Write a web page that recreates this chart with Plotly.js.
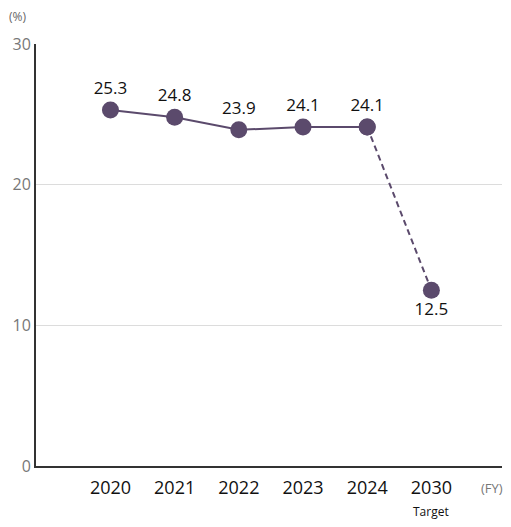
<!DOCTYPE html>
<html>
<head>
<meta charset="utf-8">
<script src="https://cdn.plot.ly/plotly-3.0.1.min.js"></script>
<style>
html, body { margin: 0; padding: 0; background: #fff; }
#chart { width: 511px; height: 527px; }
</style>
</head>
<body>
<div id="chart"></div>
<script>
var years = ['2020', '2021', '2022', '2023', '2024', '2030'];
var values = [25.3, 24.8, 23.9, 24.1, 24.1, 12.5];
var labels = ['25.3', '24.8', '23.9', '24.1', '24.1', '12.5'];
var idx = years.map(function (y, i) { return i; });

var purple = '#5b4a6c';

// actual results, solid
var actual = {
  x: idx.slice(0, 5),
  y: values.slice(0, 5),
  type: 'scatter',
  mode: 'lines+markers+text',
  text: labels.slice(0, 5),
  textposition: 'top center',
  textfont: { size: 17, color: '#111' },
  line: { color: purple, width: 2 },
  marker: { color: purple, size: 17 },
  cliponaxis: false,
  hoverinfo: 'x+y'
};

// 2024 -> target, dashed
var target = {
  x: idx.slice(4),
  y: values.slice(4),
  type: 'scatter',
  mode: 'lines+markers+text',
  text: ['', labels[5]],
  textposition: 'bottom center',
  textfont: { size: 17, color: '#111' },
  line: { color: purple, width: 2, dash: '6px,4px' },
  marker: { color: purple, size: 17 },
  cliponaxis: false,
  hoverinfo: 'x+y'
};

var layout = {
  width: 511,
  height: 527,
  showlegend: false,
  paper_bgcolor: '#fff',
  plot_bgcolor: '#fff',
  font: { family: 'Open Sans, Noto Sans, sans-serif', color: '#111' },
  margin: { l: 36, r: 9, t: 44, b: 61 },
  xaxis: {
    range: [-1.16, 6.1],
    tickvals: idx,
    ticktext: years,
    tickfont: { size: 18, color: '#111' },
    ticklabelstandoff: 4,
    showgrid: false,
    zeroline: false,
    showline: true,
    linecolor: '#333',
    linewidth: 2,
    ticks: '',
    fixedrange: true
  },
  yaxis: {
    range: [0, 30],
    tickvals: [0, 10, 20, 30],
    tickfont: { size: 16, color: '#777' },
    showgrid: true,
    gridcolor: '#dcdcdc',
    gridwidth: 1,
    zeroline: false,
    showline: true,
    linecolor: '#333',
    linewidth: 2,
    ticks: '',
    fixedrange: true
  },
  annotations: [
    { text: '(%)', xref: 'paper', yref: 'paper', x: -0.062, y: 1.04,
      xanchor: 'left', yanchor: 'bottom', showarrow: false,
      font: { size: 12, color: '#666' } },
    { text: '(FY)', xref: 'x', yref: 'paper', x: 5.95, y: 0, yshift: -22,
      xanchor: 'center', yanchor: 'middle', showarrow: false,
      font: { size: 13, color: '#777' } },
    { text: 'Target', xref: 'x', yref: 'paper', x: 5, y: 0, yshift: -45,
      xanchor: 'center', yanchor: 'middle', showarrow: false,
      font: { size: 12, color: '#111' } }
  ]
};

Plotly.newPlot('chart', [actual, target], layout, { displayModeBar: false });
</script>
</body>
</html>
